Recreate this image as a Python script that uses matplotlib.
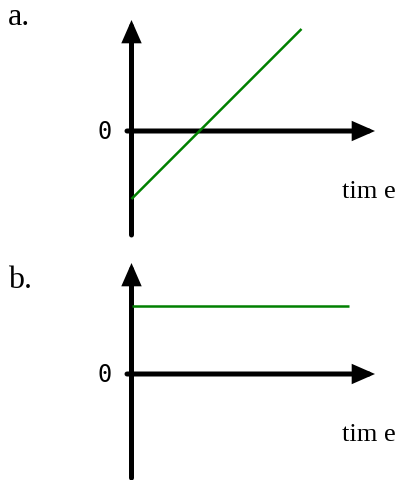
import matplotlib
matplotlib.use("Agg")
import matplotlib.pyplot as plt
from matplotlib.patches import FancyArrowPatch, ArrowStyle

# ---- data ----
time_a = [0.0, 2.5]
values_a = [-1.0, 1.5]
time_b = [0.0, 3.2]
values_b = [1.0, 1.0]
panel_labels = ["a.", "b."]
zero_label = ["0"]
x_label = "tim e"

W, H = 399, 481
DPI = 100
fig = plt.figure(figsize=(W / DPI, H / DPI), dpi=DPI)
fig.patch.set_facecolor("white")

PX = 68.0  # pixels per data unit


def make_axes(box, origin):
    """box = (left, top, right, bottom) in px; origin = (x, y) px."""
    l, t, r, b = box
    ox, oy = origin
    ax = fig.add_axes([l / W, 1 - b / H, (r - l) / W, (b - t) / H])
    ax.set_xlim((l - ox) / PX, (r - ox) / PX)
    ax.set_ylim((oy - b) / PX, (oy - t) / PX)
    ax.axis("off")
    return ax


def draw_axes_arrows(ax, ylow, ytop, xleft, xright):
    style = ArrowStyle("-|>", head_length=10.5, head_width=4.6)
    kw = dict(arrowstyle=style, mutation_scale=1, linewidth=3.6, color="black",
              shrinkA=0, shrinkB=0, clip_on=False, joinstyle="miter", capstyle="round")
    ax.add_patch(FancyArrowPatch((0, ylow), (0, ytop), **kw))
    ax.add_patch(FancyArrowPatch((xleft, 0), (xright, 0), **kw))


def zero_text(ax):
    ax.annotate(zero_label[0], xy=(0, 0), xytext=(-20, 0), textcoords="offset pixels",
                ha="right", va="center", fontsize=17, family="DejaVu Sans Mono",
                annotation_clip=False)


def time_text(ax):
    ax.annotate(x_label, xy=(0, 0), xytext=(210.5, -66), textcoords="offset pixels",
                ha="left", va="baseline", fontsize=19, family="Liberation Serif",
                annotation_clip=False)


# panel a
axa = make_axes((60, 0, 399, 245), (131.5, 132))
draw_axes_arrows(axa, (132 - 236) / PX, (132 - 21) / PX, -4.5 / PX, (375 - 131.5) / PX)
axa.plot(time_a, values_a, color="#008000", linewidth=1.8, solid_capstyle="butt")
zero_text(axa)
time_text(axa)

# panel b
axb = make_axes((60, 245, 399, 481), (131.5, 375))
draw_axes_arrows(axb, (375 - 479) / PX, (375 - 264) / PX, -4.5 / PX, (375 - 131.5) / PX)
axb.plot(time_b, values_b, color="#008000", linewidth=1.8, solid_capstyle="butt")
zero_text(axb)
time_text(axb)

fig.text(8 / W, 1 - 25 / H, panel_labels[0], fontsize=23, family="Liberation Serif",
         ha="left", va="baseline")
fig.text(8 / W, 1 - 288 / H, panel_labels[1], fontsize=23, family="Liberation Serif",
         ha="left", va="baseline")

fig.savefig("out.png", dpi=DPI, facecolor="white")
